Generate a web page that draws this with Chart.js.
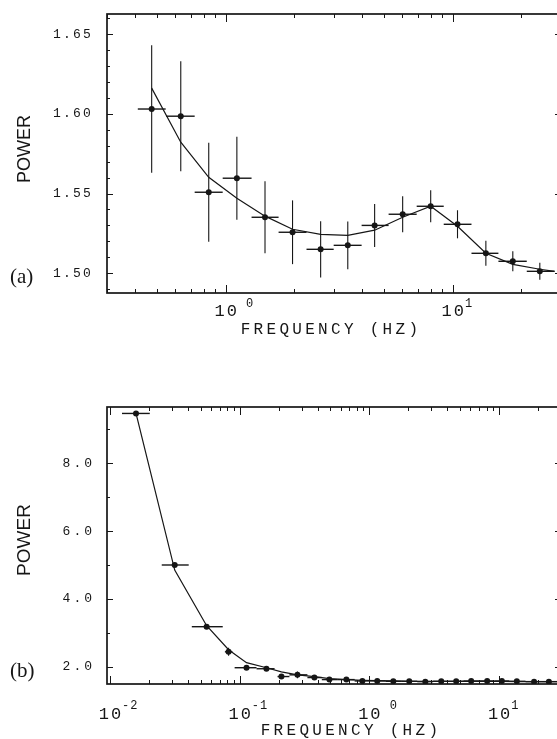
<!DOCTYPE html>
<html>
<head>
<meta charset="utf-8">
<script src="https://cdn.jsdelivr.net/npm/chart.js@4/dist/chart.umd.min.js"></script>
<style>
html, body { margin: 0; padding: 0; background: #fff; overflow: hidden; width: 557px; height: 739px; }
.panel { position: absolute; left: 0; }
#wrapA { top: 0; }
#wrapB { top: 380px; }
</style>
</head>
<body>
<div class="panel" id="wrapA"><canvas id="chartA" width="570" height="345"></canvas></div>
<div class="panel" id="wrapB"><canvas id="chartB" width="570" height="359"></canvas></div>
<script>
const ink = '#161616';

// panel (a): power vs frequency, binned, with fit
const freqA  = [0.472, 0.634, 0.842, 1.12, 1.49, 1.97, 2.62, 3.45, 4.53, 6.02, 8.0, 10.5, 14.0, 18.4, 24.2];
const loA    = [0.41, 0.547, 0.73, 0.97, 1.30, 1.71, 2.27, 2.99, 3.97, 5.22, 6.94, 9.13, 12.1, 15.9, 21.2];
const hiA    = [0.544, 0.73, 0.97, 1.30, 1.71, 2.27, 2.99, 3.97, 5.22, 6.94, 9.13, 12.1, 15.9, 21.2, 28.1];
const powerA = [1.603, 1.5985, 1.5508, 1.5596, 1.5351, 1.5257, 1.515, 1.5175, 1.530, 1.537, 1.542, 1.5307, 1.5125, 1.5075, 1.5012];
const errA   = [0.040, 0.0345, 0.031, 0.026, 0.0226, 0.020, 0.0176, 0.015, 0.0135, 0.0113, 0.010, 0.0088, 0.0078, 0.0063, 0.0053];
const fitFreqA = [0.472, 0.634, 0.842, 1.12, 1.49, 1.97, 2.62, 3.45, 4.53, 6.02, 8.0, 10.5, 14.0, 18.4, 24.2, 28.1];
const fitA     = [1.6161, 1.5822, 1.5602, 1.547, 1.5358, 1.5276, 1.5244, 1.5238, 1.527, 1.5351, 1.542, 1.5295, 1.5125, 1.5056, 1.5025, 1.5012];

// panel (b)
const freqB  = [0.0159, 0.0316, 0.0557, 0.0822, 0.113, 0.161, 0.210, 0.279, 0.377, 0.492, 0.665, 0.883,
                1.15, 1.53, 2.03, 2.70, 3.58, 4.67, 6.09, 8.09, 10.5, 13.7, 18.6, 24.2];
const loB    = [0.0124, 0.0251, 0.0428, 0.077, 0.0915, 0.135, 0.196, 0.242, 0.333, 0.43, 0.57, 0.77,
                1.0, 1.33, 1.76, 2.34, 3.1, 4.1, 5.3, 7.0, 9.2, 12.0, 16.0, 21.2];
const hiB    = [0.0203, 0.0405, 0.0741, 0.088, 0.135, 0.186, 0.242, 0.333, 0.43, 0.57, 0.77, 1.0,
                1.33, 1.76, 2.34, 3.1, 4.1, 5.3, 7.0, 9.2, 12.0, 16.0, 21.2, 28.0];
const powerB = [9.47, 5.0, 3.18, 2.44, 1.97, 1.94, 1.71, 1.76, 1.68, 1.62, 1.62, 1.58,
                1.58, 1.57, 1.57, 1.56, 1.57, 1.57, 1.58, 1.58, 1.58, 1.57, 1.56, 1.56];
const errB   = [0.05, 0.05, 0.05, 0.12, 0.05, 0.05, 0.06, 0.1, 0.05, 0.05, 0.05, 0.05,
                0.05, 0.05, 0.05, 0.05, 0.05, 0.05, 0.05, 0.05, 0.05, 0.05, 0.05, 0.05];
const fitFreqB = [0.0159, 0.0316, 0.0557, 0.0822, 0.113, 0.161, 0.210, 0.279, 0.377, 0.492, 0.665, 0.883,
                  1.15, 1.53, 2.03, 2.70, 3.58, 4.67, 6.09, 8.09, 10.5, 13.7, 18.6, 24.2, 28.0];
const fitB     = [9.47, 4.85, 3.21, 2.5, 2.12, 1.97, 1.85, 1.76, 1.71, 1.65, 1.62, 1.60,
                  1.59, 1.58, 1.57, 1.57, 1.57, 1.57, 1.57, 1.57, 1.57, 1.56, 1.56, 1.56, 1.56];

// axis ticks
const yTicksA = [1.50, 1.55, 1.60, 1.65];
const yLabelsA = ['1.50', '1.55', '1.60', '1.65'];
const xDecadesA = [1, 10];
const xExpA = [' 0', '1'];
const yTicksB = [2, 4, 6, 8];
const yLabelsB = ['2.0', '4.0', '6.0', '8.0'];
const xDecadesB = [0.01, 0.1, 1, 10];
const xExpB = ['-2', '-1', ' 0', '1'];

function seg(points, w) {
    return { data: points, showLine: true, borderColor: ink, borderWidth: w, pointRadius: 0, fill: false };
}

function errorSets(xs, ys, lo, hi, err) {
    const sets = [];
    xs.forEach((fx, i) => {
        sets.push(seg([{ x: lo[i], y: ys[i] }, { x: hi[i], y: ys[i] }], 1.4));
        sets.push(seg([{ x: fx, y: ys[i] - err[i] }, { x: fx, y: ys[i] + err[i] }], 1.1));
    });
    return sets;
}

function framePlugin(s) {
    return {
        id: 'frame',
        afterDraw(chart) {
            const { ctx, chartArea: a, scales: { x, y } } = chart;
            ctx.save();
            ctx.strokeStyle = ink;
            ctx.fillStyle = ink;
            ctx.lineWidth = 1.7;
            ctx.strokeRect(a.left, a.top, a.right - a.left, a.bottom - a.top);

            // log x ticks, top and bottom, pointing in
            ctx.lineWidth = 1;
            ctx.beginPath();
            const d0 = Math.floor(Math.log10(x.min)), d1 = Math.ceil(Math.log10(x.max));
            for (let d = d0; d <= d1; d++) {
                for (let k = 1; k <= 9; k++) {
                    const v = k * Math.pow(10, d);
                    if (v < x.min || v > x.max) continue;
                    const px = Math.round(x.getPixelForValue(v)) + 0.5;
                    const len = k === 1 ? 8 : 4;
                    ctx.moveTo(px, a.bottom); ctx.lineTo(px, a.bottom - len);
                    ctx.moveTo(px, a.top); ctx.lineTo(px, a.top + len);
                }
            }
            // y ticks, left and right
            const i0 = Math.ceil(y.min / s.yMinor - 1e-6), i1 = Math.floor(y.max / s.yMinor + 1e-6);
            for (let i = i0; i <= i1; i++) {
                const v = i * s.yMinor;
                const major = s.yTicks.some(t => Math.abs(t - v) < 1e-6);
                const py = Math.round(y.getPixelForValue(v)) + 0.5;
                const len = major ? 6 : 3;
                ctx.moveTo(a.left, py); ctx.lineTo(a.left + len, py);
                ctx.moveTo(a.right, py); ctx.lineTo(a.right - len, py);
            }
            ctx.stroke();

            // y tick labels
            ctx.font = '13px "Liberation Mono"';
            ctx.letterSpacing = s.ySpacing;
            ctx.textAlign = 'right';
            ctx.textBaseline = 'middle';
            s.yTicks.forEach((t, i) => ctx.fillText(s.yLabels[i], s.yLabelRight, y.getPixelForValue(t)));

            // x decade labels 10^n
            ctx.textBaseline = 'alphabetic';
            s.xDecades.forEach((t, i) => {
                const px = x.getPixelForValue(t);
                ctx.font = '17px "Liberation Mono"';
                ctx.letterSpacing = '2px';
                ctx.textAlign = 'center';
                ctx.fillText('10', px + 1, s.xBase);
                const w = ctx.measureText('10').width;
                ctx.font = '12px "Liberation Mono"';
                ctx.letterSpacing = '1px';
                ctx.textAlign = 'left';
                ctx.fillText(s.xExp[i], px + w / 2, s.xBase - s.raise);
            });

            // axis titles
            ctx.font = '16px "Liberation Mono"';
            ctx.letterSpacing = '3.3px';
            ctx.textAlign = 'center';
            ctx.textBaseline = 'middle';
            ctx.fillText('FREQUENCY (HZ)', s.titleX, s.titleY);

            ctx.letterSpacing = '0px';
            ctx.save();
            ctx.translate(s.powerX, s.powerY);
            ctx.rotate(-Math.PI / 2);
            ctx.font = s.powerFont + ' "Liberation Sans"';
            ctx.fillText('POWER', 0, 0);
            ctx.restore();

            ctx.font = '21px "Liberation Serif"';
            ctx.textAlign = 'left';
            ctx.textBaseline = 'alphabetic';
            ctx.fillText(s.tag, 10, s.tagY);
            ctx.restore();
        }
    };
}

function makeChart(id, d, s) {
    const datasets = [
        seg(d.fitX.map((v, i) => ({ x: v, y: d.fitY[i] })), 1.2),
        { data: d.x.map((v, i) => ({ x: v, y: d.y[i] })), pointRadius: 3, pointBackgroundColor: ink,
          pointBorderColor: ink, pointBorderWidth: 0, showLine: false },
        ...errorSets(d.x, d.y, d.lo, d.hi, d.err)
    ];
    return new Chart(document.getElementById(id), {
        type: 'scatter',
        data: { datasets },
        options: {
            responsive: false,
            animation: false,
            events: [],
            layout: { autoPadding: false, padding: s.pad },
            plugins: { legend: { display: false }, tooltip: { enabled: false } },
            scales: {
                x: { type: 'logarithmic', display: false, min: s.xMin, max: s.xMax },
                y: { type: 'linear', display: false, min: s.yMin, max: s.yMax }
            }
        },
        plugins: [framePlugin(s)]
    });
}

makeChart('chartA',
    { x: freqA, y: powerA, lo: loA, hi: hiA, err: errA, fitX: fitFreqA, fitY: fitA },
    { pad: { left: 107, top: 14, right: 9, bottom: 52 },
      xMin: 0.3, xMax: 30, yMin: 1.4876, yMax: 1.6626,
      yTicks: yTicksA, yLabels: yLabelsA, yMinor: 0.01, yLabelRight: 93, ySpacing: '2.2px',
      xDecades: xDecadesA, xExp: xExpA, xBase: 316, raise: 9,
      titleX: 331, titleY: 330, powerX: 25, powerY: 149, powerFont: '18px', tag: '(a)', tagY: 283 });

makeChart('chartB',
    { x: freqB, y: powerB, lo: loB, hi: hiB, err: errB, fitX: fitFreqB, fitY: fitB },
    { pad: { left: 107, top: 27, right: 9, bottom: 55 },
      xMin: 0.0095, xMax: 30, yMin: 1.49, yMax: 9.66,
      yTicks: yTicksB, yLabels: yLabelsB, yMinor: 1, yLabelRight: 95, ySpacing: '3px',
      xDecades: xDecadesB, xExp: xExpB, xBase: 339, raise: 10,
      titleX: 351, titleY: 351, powerX: 25, powerY: 160, powerFont: '19px', tag: '(b)', tagY: 297 });
</script>
</body>
</html>
